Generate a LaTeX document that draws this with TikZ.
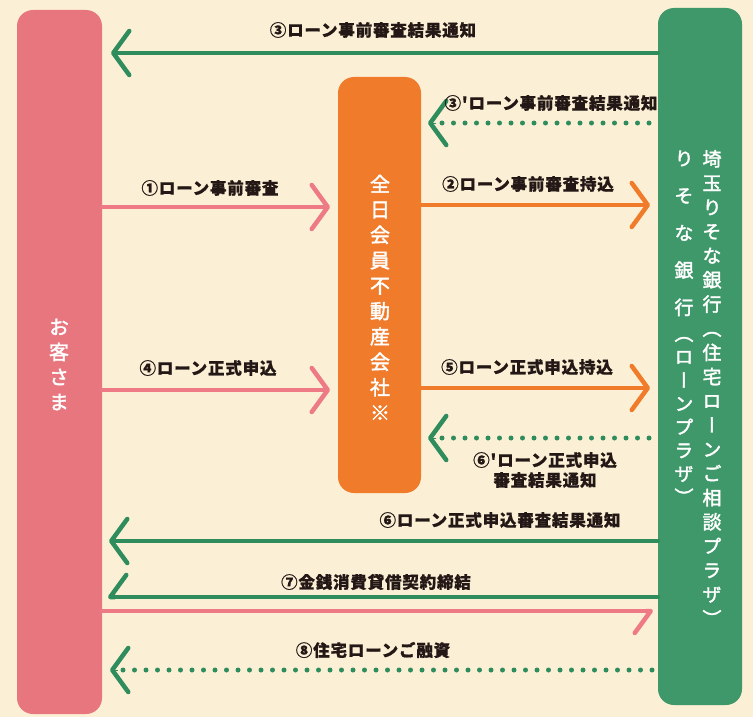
\documentclass[tikz,border=0pt]{standalone}
\usepackage{fontspec}
\usetikzlibrary{arrows.meta}
\newfontfamily\lblfont{Noto Sans CJK JP}[LetterSpace=5,BoldFeatures={FakeBold=0.8}]
\newfontfamily\boxfont{Noto Sans CJK JP}[RawFeature=+vert,FakeBold=2]
\definecolor{cream}{HTML}{FBF0D5}
\definecolor{pinkbox}{HTML}{E8767F}
\definecolor{pinkline}{HTML}{EE7A86}
\definecolor{orangebox}{HTML}{F07B2B}
\definecolor{greenbox}{HTML}{3F986A}
\definecolor{greenline}{HTML}{2F8C5C}
\definecolor{txt}{HTML}{231815}
\begin{document}
\begin{tikzpicture}[x=1pt,y=-1pt,
  lbl/.style={font=\lblfont\bfseries\fontsize{16.5}{20}\selectfont, text=txt, inner sep=0pt, align=center},
  boxnode/.style={rounded corners=16pt, inner sep=0pt, draw=none},
  vtext/.style={text=white, inner sep=0pt, align=center},
  solidline/.style={line width=4.5pt, line cap=round},
  chev/.style={-{Straight Barb[length=16pt,width=44pt,line width=4.5pt,round]}},
  harpR/.style={-{Straight Barb[length=16pt,width=44pt,line width=4.5pt,round,right]}},
  chevonly/.style={line width=0.1pt, -{Straight Barb[length=16pt,width=44pt,line width=4.5pt,round]}},
  dots/.style={line width=5pt, line cap=round, dash pattern=on 0pt off 11.5pt}
]
\useasboundingbox (0,0) rectangle (753,717);
\fill[cream] (0,0) rectangle (753,717);

% boxes
\node[boxnode, fill=pinkbox, minimum width=85pt, minimum height=704pt] (cust) at (59.5,362) {};
\node[boxnode, fill=orangebox, minimum width=83pt, minimum height=416pt] (agent) at (379.5,285) {};
\node[boxnode, fill=greenbox, minimum width=84pt, minimum height=697pt] (bank) at (700,356.5) {};

% box texts
\node[vtext, font=\boxfont\fontsize{20}{25}\selectfont] (custtxt) at (59,364.5) {お\\客\\さ\\ま};
\node[vtext, font=\boxfont\fontsize{20}{25.4}\selectfont] (agenttxt) at (380,297.5) {全\\日\\会\\員\\不\\動\\産\\会\\社\\※};
\node[vtext, font=\boxfont\fontsize{19}{24.2}\selectfont] (banktxtA) at (712,388) {埼\\玉\\り\\そ\\な\\銀\\行\\（\\住\\宅\\ロ\\ー\\ン\\ご\\相\\談\\プ\\ラ\\ザ\\）};
\node[vtext, font=\boxfont\fontsize{19}{23.4}\selectfont] (banktxtB) at (684,327.5) {り\\[13.85pt]そ\\[13.85pt]な\\[13.85pt]銀\\[13.85pt]行\\[2.6pt]（\\ロ\\ー\\ン\\プ\\ラ\\ザ\\）};

% free ends
\coordinate (t3) at (111,53);
\coordinate (t3pd) at (442,123);
\coordinate (t3ps) at (436,123);
\coordinate (t3pt) at (428,123);
\coordinate (t1) at (330,207);
\coordinate (t2) at (650,205);
\coordinate (t4) at (330,390);
\coordinate (t5) at (650,388);
\coordinate (t6pd) at (442,438);
\coordinate (t6ps) at (436,438);
\coordinate (t6pt) at (428,438);
\coordinate (t6) at (109,541);
\coordinate (t7) at (108,597);
\coordinate (t7p) at (653,611);
\coordinate (t8d) at (123,670);
\coordinate (t8s) at (118,670);
\coordinate (t8t) at (110,670);

% connectors
\draw[solidline, greenline, chev] (bank.west |- t3) -- (t3);
\draw[dots, greenline] (t3pd) -- (bank.west |- t3pd);
\draw[chevonly, greenline] (t3ps) -- (t3pt);
\draw[solidline, pinkline, chev] (cust.east |- t1) -- (t1);
\draw[solidline, orangebox, chev] (agent.east |- t2) -- (t2);
\draw[solidline, pinkline, chev] (cust.east |- t4) -- (t4);
\draw[solidline, orangebox, chev] (agent.east |- t5) -- (t5);
\draw[dots, greenline] (t6pd) -- (bank.west |- t6pd);
\draw[chevonly, greenline] (t6ps) -- (t6pt);
\draw[solidline, greenline, chev] (bank.west |- t6) -- (t6);
\draw[solidline, greenline, harpR] (bank.west |- t7) -- (t7);
\draw[solidline, pinkline, harpR] (cust.east |- t7p) -- (t7p);
\draw[dots, greenline] (t8d) -- (bank.west |- t8d);
\draw[chevonly, greenline] (t8s) -- (t8t);

% labels
\node[lbl] (l3) at (373,30) {③ローン事前審査結果通知};
\node[lbl] (l3p) at (551,103) {③'ローン事前審査結果通知};
\node[lbl] (l1) at (210,188) {①ローン事前審査};
\node[lbl] (l2) at (528,184) {②ローン事前審査持込};
\node[lbl] (l4) at (208,368) {④ローン正式申込};
\node[lbl] (l5) at (527,367) {⑤ローン正式申込持込};
\node[lbl] (l6p) at (545,470) {⑥'ローン正式申込\\審査結果通知};
\node[lbl] (l6) at (500,520) {⑥ローン正式申込審査結果通知};
\node[lbl] (l7) at (376,582) {⑦金銭消費貸借契約締結};
\node[lbl] (l8) at (373,650) {⑧住宅ローンご融資};
\end{tikzpicture}
\end{document}
